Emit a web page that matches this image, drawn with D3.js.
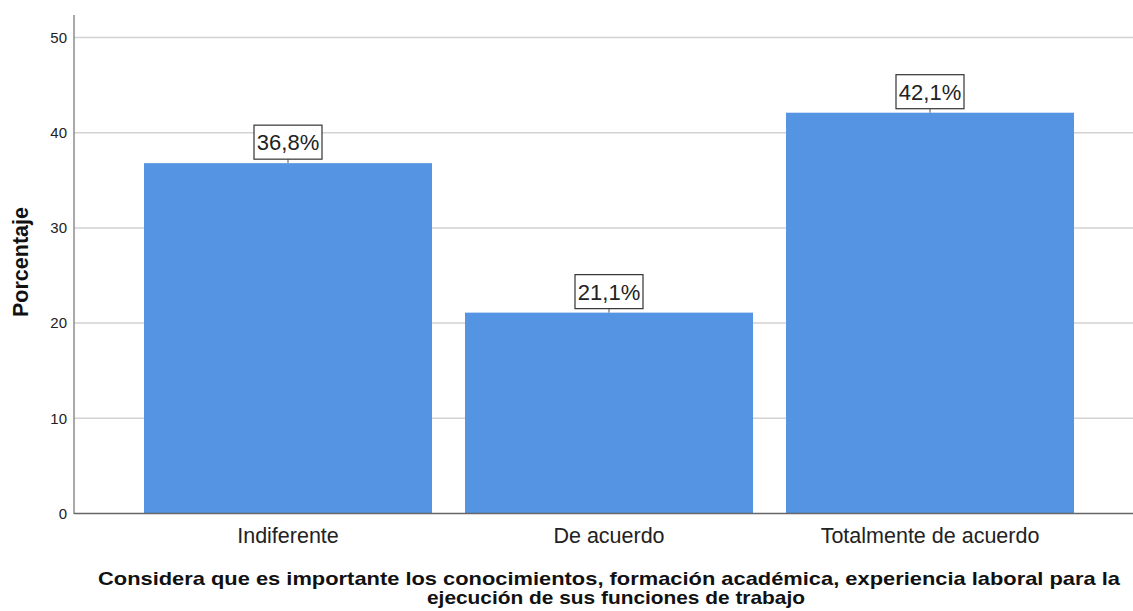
<!DOCTYPE html>
<html><head><meta charset="utf-8">
<script src="https://cdn.jsdelivr.net/npm/d3@7"></script>
<style>body{margin:0;background:#fff}svg{display:block}text{font-family:"Liberation Sans",Arial,sans-serif}</style>
</head><body><svg id="c" width="1133" height="611"></svg>
<script>
const categories = ["Indiferente","De acuerdo","Totalmente de acuerdo"];
const values = [36.8, 21.1, 42.1];
const valueLabels = ["36,8%","21,1%","42,1%"];
const yTicks = [0,10,20,30,40,50];
const xTitle = ["Considera que es importante los conocimientos, formación académica, experiencia laboral para la","ejecución de sus funciones de trabajo"];
const yTitle = "Porcentaje";

(function(){
const svg = d3.select("#c");
const mLeft = 74, mRight = 1133, mTop = 15, mBottom = 513.5;
const y = d3.scaleLinear().domain([0,50]).range([mBottom, 37.5]);
const x = d3.scaleBand().domain(categories).range([127.5, 1090.5]).paddingInner(33/321).paddingOuter(16.5/321);

svg.append("g").selectAll("line").data(yTicks.filter(d=>d>0)).join("line")
  .attr("x1", mLeft).attr("x2", mRight).attr("y1", d=>y(d)).attr("y2", d=>y(d))
  .attr("stroke", "#d2d2d2").attr("stroke-width", 1.5);

svg.append("g").selectAll("rect").data(values).join("rect")
  .attr("x", (d,i)=>x(categories[i])).attr("width", x.bandwidth())
  .attr("y", d=>y(d)).attr("height", d=>mBottom - y(d))
  .attr("fill", "#5594e3");

const ya = svg.append("g").attr("transform", `translate(${mLeft},0)`)
  .call(d3.axisLeft(y).tickValues(yTicks).tickSize(0).tickPadding(7));
ya.select(".domain").remove();
ya.selectAll("text").attr("font-size", 15).attr("fill", "#222").attr("font-family", '"Liberation Sans",Arial,sans-serif');
svg.append("line").attr("x1", mLeft).attr("x2", mLeft).attr("y1", mTop).attr("y2", mBottom+0.5).attr("stroke", "#8c8c8c").attr("stroke-width", 1.5);
svg.append("line").attr("x1", mLeft).attr("x2", mRight).attr("y1", mBottom).attr("y2", mBottom).attr("stroke", "#666").attr("stroke-width", 1.5);

const xa = svg.append("g").attr("transform", `translate(0,${mBottom})`)
  .call(d3.axisBottom(x).tickSize(0));
xa.select(".domain").remove();
xa.selectAll("text").attr("y", 29.5).attr("dy", 0).attr("font-size", 21.5).attr("fill", "#222").attr("font-family", '"Liberation Sans",Arial,sans-serif');

const lab = svg.append("g").selectAll("g").data(values).join("g")
  .attr("transform", (d,i)=>`translate(${x(categories[i]) + x.bandwidth()/2},${y(d)})`);
lab.append("line").attr("x1",0).attr("x2",0).attr("y1",-4).attr("y2",0).attr("stroke","#555");
lab.append("rect").attr("x",-34).attr("y",-38).attr("width",68).attr("height",34)
  .attr("fill","#fff").attr("stroke","#333").attr("stroke-width",1.2);
lab.append("text").attr("x",0).attr("y",-13).attr("text-anchor","middle").attr("font-size",22).attr("fill","#222")
  .text((d,i)=>valueLabels[i]);

const titleLens = [1022, 378];
const titleX = [609, 616];
svg.append("g").selectAll("text").data(xTitle).join("text")
  .attr("text-anchor","middle").attr("font-size",18.5).attr("font-weight","bold").attr("fill","#111")
  .attr("x",(d,i)=>titleX[i]).attr("y",(d,i)=>585 + i*19)
  .attr("textLength",(d,i)=>titleLens[i]).attr("lengthAdjust","spacingAndGlyphs")
  .text(d=>d);
svg.append("text").attr("transform","translate(28,262) rotate(-90)").attr("text-anchor","middle")
  .attr("font-size",21.5).attr("font-weight","bold").attr("fill","#111").text(yTitle);
})();
</script></body></html>
